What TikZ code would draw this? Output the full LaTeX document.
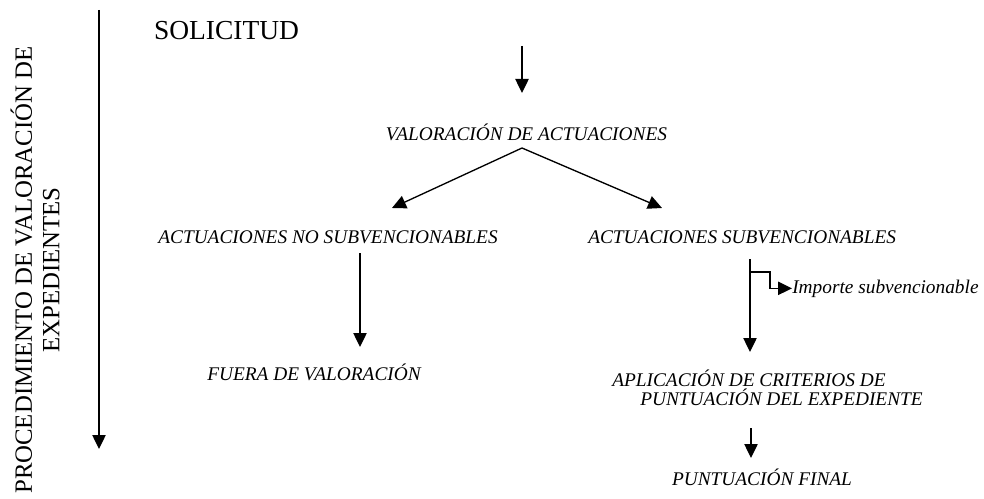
\documentclass[tikz,border=0pt]{standalone}
\usepackage{fontspec}
\setmainfont{Liberation Serif}
\usetikzlibrary{arrows.meta}

\begin{document}
\begin{tikzpicture}[x=0.75pt,y=-0.75pt]

\tikzstyle{flow}   = [draw, line width=1pt, -{Triangle[length=10.5pt,width=10pt]}]
\tikzstyle{etapa}  = [inner sep=0pt, font=\fontsize{14.5}{15}\selectfont\itshape]
\tikzstyle{titulo} = [inner sep=0pt, font=\fontsize{20.6}{24}\selectfont]

\useasboundingbox (0,0) rectangle (984,499);

% texts
\node [titulo, rotate=90, align=center, font=\fontsize{18.6}{20.6}\selectfont] (proc) at (35,270)
  {PROCEDIMIENTO DE VALORACIÓN DE\\EXPEDIENTES};
\node [titulo, anchor=base] (solicitud) at (226.5,40) {SOLICITUD};
\node [etapa, anchor=base] (valoracion) at (526.5,140.5) {VALORACIÓN DE ACTUACIONES};
\node [etapa, anchor=base] (nosub) at (328,243) {ACTUACIONES NO SUBVENCIONABLES};
\node [etapa, anchor=base west] (sub) at (588,243) {ACTUACIONES SUBVENCIONABLES};
\node [etapa, anchor=base] (fuera) at (314,380) {FUERA DE VALORACIÓN};
\node [etapa, anchor=base west] (importe) at (792,293) {Importe subvencionable};
\node [etapa, anchor=base west, align=left] (criterios) at (612,405)
  {APLICACIÓN DE CRITERIOS DE\\[-1pt]\hspace*{21pt}PUNTUACIÓN DEL EXPEDIENTE};
\node [etapa, anchor=base] (final) at (762,485) {PUNTUACIÓN FINAL};

% connector ends
\coordinate (inicio) at (99,10);
\coordinate (fin) at (99,449);
\coordinate (entrada) at (522,46);
\coordinate (apex) at (522,148);
\coordinate (izq) at (392,208);
\coordinate (der) at (662,208);
\coordinate (nosubA) at (360,253);
\coordinate (nosubB) at (360,347);
\coordinate (subA) at (750,259);
\coordinate (subB) at (750,352);
\coordinate (rama) at (750,272);
\coordinate (finalA) at (751,428);
\coordinate (finalB) at (751,458);

% arrows
\draw [flow] (inicio) -- (fin);
\draw [flow] (entrada) -- (entrada |- 0,93);
\draw [flow] (apex) -- (izq);
\draw [flow] (apex) -- (der);
\draw [flow] (nosubA) -- (nosubB);
\draw [flow] (subA) -- (subB);
\draw [flow] (rama) -- (770,272) |- (importe.west);
\draw [flow] (finalA) -- (finalB);
\end{tikzpicture}
\end{document}
